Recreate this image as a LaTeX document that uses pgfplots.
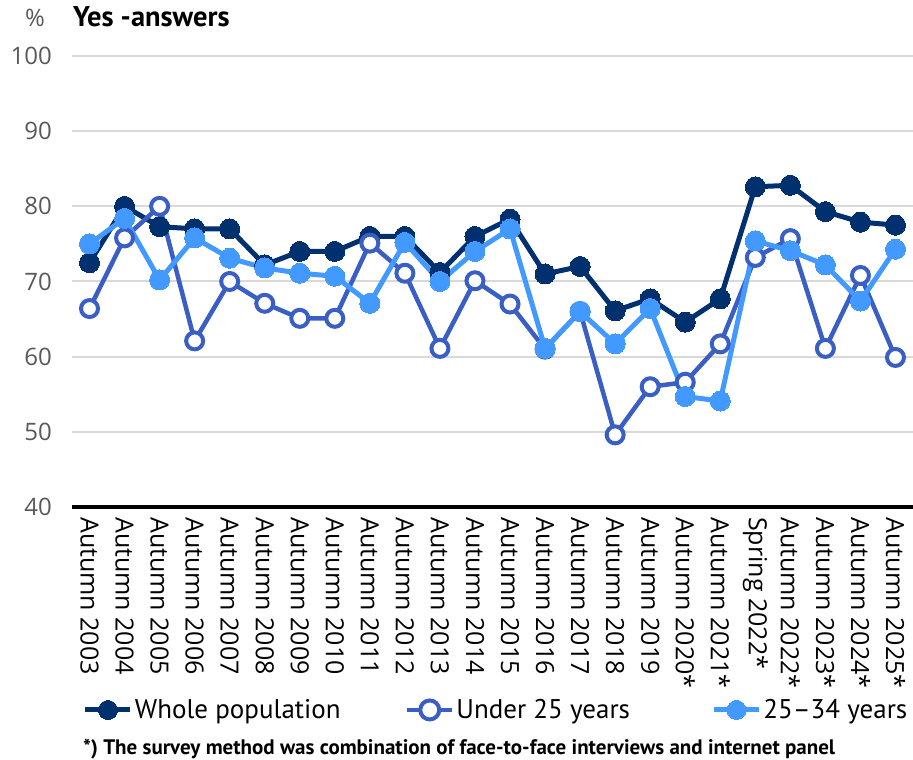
\documentclass[border=0pt]{standalone}
\usepackage{fontspec}
\setmainfont{PT Sans}
\newfontfamily\tickfont{Open Sans}
\usepackage{pgfplots}
\pgfplotsset{compat=1.18}
\usepackage{pgfplotstable}
\definecolor{cdark}{RGB}{0,48,110}
\definecolor{cmid}{RGB}{58,95,196}
\definecolor{clight}{RGB}{66,153,255}
\definecolor{tickgrey}{RGB}{89,89,89}
\definecolor{gridgrey}{RGB}{217,217,217}
\pgfplotstableread{
x whole under young
0 72.5 66.4 75.0
1 80.0 75.8 78.4
2 77.3 80.0 70.2
3 77.0 62.1 75.8
4 77.0 70.0 73.1
5 72.2 67.1 71.8
6 74.0 65.1 71.1
7 74.0 65.1 70.7
8 76.0 75.1 67.1
9 76.0 71.1 75.2
10 71.2 61.1 70.0
11 76.0 70.1 74.0
12 78.3 67.0 77.0
13 71.0 61.0 61.1
14 72.0 66.0 66.0
15 66.1 49.6 61.7
16 67.7 56.0 66.4
17 64.6 56.6 54.7
18 67.7 61.7 54.1
19 82.6 73.2 75.4
20 82.8 75.7 74.1
21 79.3 61.1 72.2
22 77.9 70.8 67.4
23 77.5 59.9 74.3
}\datatable
\begin{document}
\begin{tikzpicture}
\useasboundingbox (0pt,0pt) rectangle (913pt,760pt);
\begin{axis}[
  at={(72pt,253pt)}, anchor=south west,
  scale only axis, width=841pt, height=451pt,
  xmin=-0.5, xmax=23.5, ymin=40, ymax=100,
  clip=false,
  axis x line*=bottom, axis y line*=left,
  y axis line style={draw=none},
  x axis line style={line width=4pt, black},
  tick style={draw=none},
  ytick={40,50,...,100},
  ymajorgrids, grid style={gridgrey, line width=2pt},
  xtick={0,...,23},
  xticklabels={Autumn 2003,Autumn 2004,Autumn 2005,Autumn 2006,Autumn 2007,Autumn 2008,Autumn 2009,Autumn 2010,Autumn 2011,Autumn 2012,Autumn 2013,Autumn 2014,Autumn 2015,Autumn 2016,Autumn 2017,Autumn 2018,Autumn 2019,Autumn 2020*,Autumn 2021*,Spring 2022*,Autumn 2022*,Autumn 2023*,Autumn 2024*,Autumn 2025*},
  /pgf/number format/assume math mode=true,
  xticklabel style={rotate=-90, anchor=west, inner sep=0pt, xshift=10pt, font=\tickfont\fontsize{25}{25}\selectfont, text=black},
  yticklabel style={anchor=east, inner sep=0pt, xshift=-20pt, font=\tickfont\fontsize{24}{24}\selectfont, text=tickgrey},
  legend columns=3,
  legend style={at={(0.01308,-0.450)}, anchor=west, draw=none, fill=none, inner sep=0pt, outer sep=0pt,
    font=\fontsize{27}{27}\selectfont, column sep=0pt},
  legend cell align=left,
  legend image code/.code={
    \draw[#1, mark=none] (0pt,0pt) -- (45pt,0pt);
    \draw[#1, only marks, mark size=9.5pt] plot coordinates {(22.5pt,0pt)};
  },
]
\addplot[cdark, line width=5pt, mark=*, mark size=10pt, mark options={solid, fill=cdark, draw=cdark, line width=0pt}] table[x=x, y=whole] {\datatable};
\addlegendentry{\makebox[268pt][l]{Whole population}}
\addplot[cmid, line width=4.5pt, mark=*, mark size=8.5pt, mark options={solid, fill=white, draw=cmid, line width=4pt}] table[x=x, y=under] {\datatable};
\addlegendentry{\makebox[253pt][l]{Under 25 years}}
\addplot[clight, line width=5pt, mark=*, mark size=10pt, mark options={solid, fill=clight, draw=clight, line width=0pt}] table[x=x, y=young] {\datatable};
\addlegendentry{25--34 years}
\end{axis}
\node[anchor=base east, inner sep=0pt, text=tickgrey, font=\tickfont\fontsize{24}{24}\selectfont] at (45pt,733pt) {\%};
\node[anchor=base west, inner sep=0pt, font=\bfseries\fontsize{28.5}{28.5}\selectfont] at (73pt,733pt) {Yes -answers};
\node[anchor=base west, inner sep=0pt, font=\bfseries\fontsize{21}{21}\selectfont] at (83pt,5pt) {*) The survey method was combination of face-to-face interviews and internet panel};
\end{tikzpicture}
\end{document}
